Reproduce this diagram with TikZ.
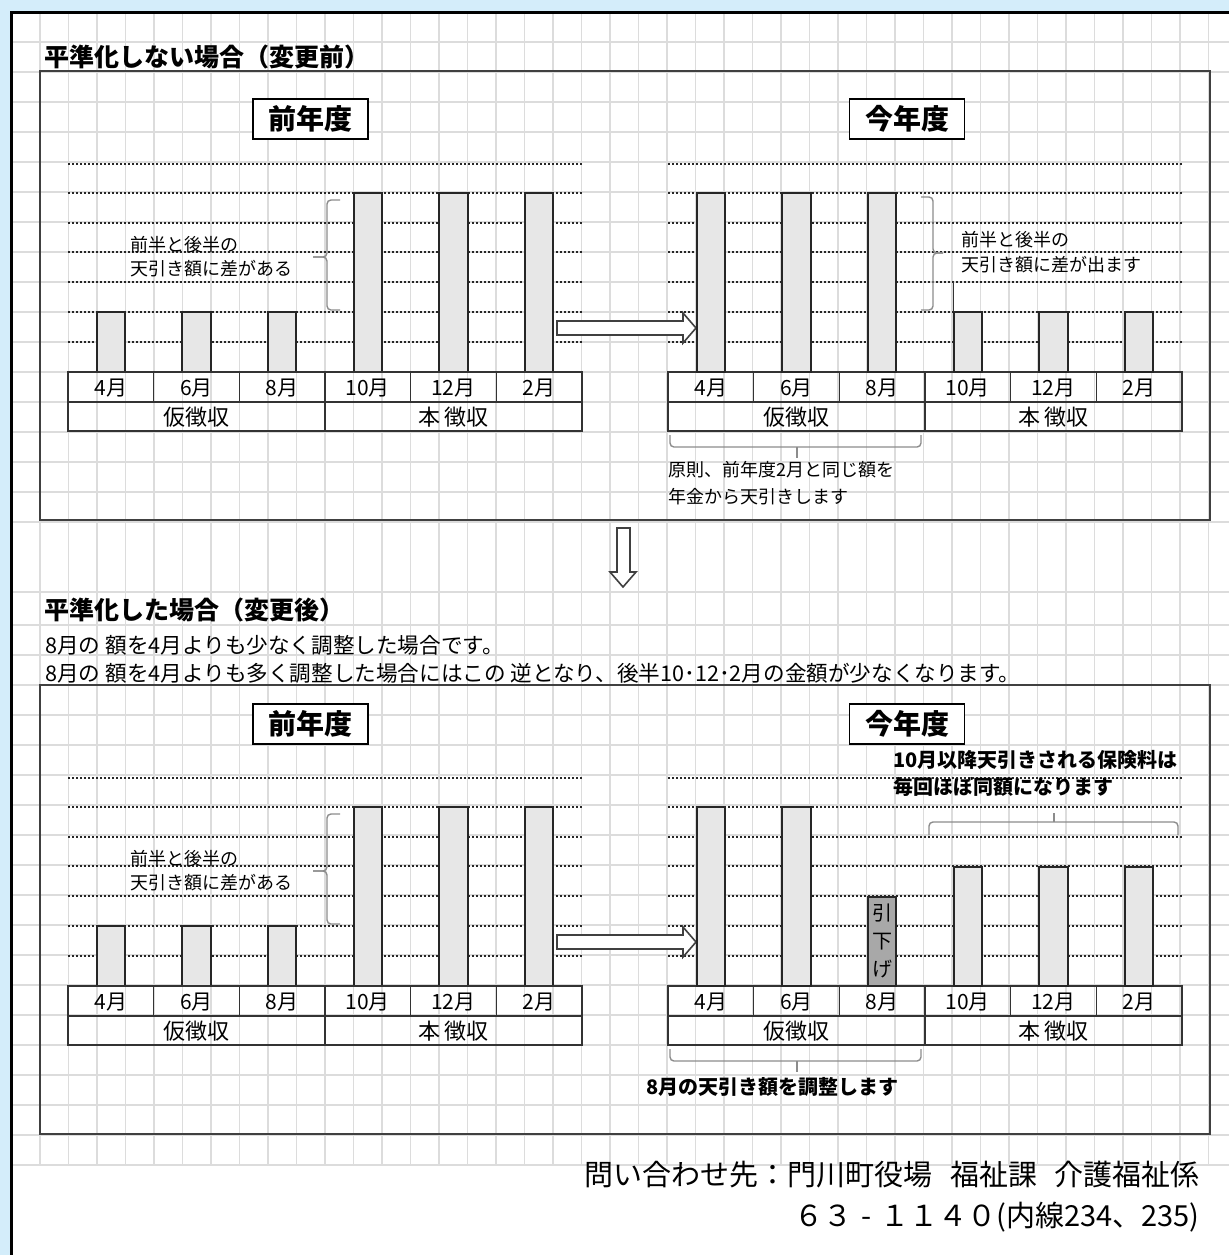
\documentclass[tikz,border=0pt]{standalone}
\usepackage{fontspec}
\setmainfont{Noto Sans CJK JP}
\definecolor{bgblue}{RGB}{212,237,250}
\definecolor{gridgray}{RGB}{220,220,220}
\definecolor{barfill}{RGB}{231,231,231}
\definecolor{lowfill}{RGB}{168,168,168}
\newcommand{\fsz}[1]{\fontsize{#1}{#1}\selectfont}

\begin{document}
\begin{tikzpicture}[x=0.5pt,y=-0.5pt,
  gridline/.style={draw=gridgray,line width=0.8pt},
  frameline/.style={draw=black!75,line width=0.9pt},
  guide/.style={draw=black!85,line width=1pt,dash pattern=on 1pt off 1pt},
  bar/.style={fill=barfill,draw=black!85,line width=1pt},
  lowbar/.style={fill=lowfill,draw=black!85,line width=1pt},
  cell/.style={draw=black!80,line width=0.8pt},
  brace/.style={draw=black!45,line width=0.7pt,rounded corners=2pt},
  hollow/.style={fill=white,draw=black!75,line width=0.8pt},
  yearbox/.style={draw=black,fill=white,line width=0.8pt,minimum width=57.5pt,
    minimum height=20pt,inner sep=0pt,font=\fsz{14}\bfseries},
  month/.style={inner sep=0pt,font=\fsz{10.5}},
  group/.style={inner sep=0pt,font=\fsz{11}},
  note/.style={anchor=west,inner sep=0pt,font=\fsz{9}},
  boldnote/.style={anchor=west,inner sep=0pt,font=\fsz{10}\bfseries},
  heading/.style={anchor=west,inner sep=0pt,font=\fsz{12.5}\bfseries},
  ]
\useasboundingbox (0,0) rectangle (1229,1255);

% sheet and spreadsheet grid
\fill[bgblue] (0,0) rectangle (1229,1255);
\fill[white] (11,12) rectangle (1229,1255);
\foreach \gx in {0,...,41}
  \draw[gridline] (40+28.5*\gx,12) -- (40+28.5*\gx,1165);
\foreach \gy in {42,72,...,522}
  \draw[gridline] (11,\gy) -- (1229,\gy);
\foreach \gy in {592,625,655,685,715,...,1165}
  \draw[gridline] (11,\gy) -- (1229,\gy);
\draw[black,line width=1.5pt] (11,1255) -- (11,12) -- (1229,12);

% parts that both panels share
\foreach \dy/\p in {0/a,614/b}{
\begin{scope}[shift={(0,\dy)}]
  \draw[frameline] (40,71) rectangle (1210,520);
  \foreach \gy in {164,193,223,252,282,312,342}{
    \draw[guide] (68,\gy) -- (582,\gy);
    \draw[guide] (668,\gy) -- (1182,\gy);
  }
  %last year: low first half, high second half
  \foreach \k/\top in {0/312,1/312,2/312,3/193,4/193,5/193}
    \draw[bar] ({96.6+85.67*\k},372) rectangle ({125.1+85.67*\k},\top);
  %month tables
  \foreach \tx/\s in {68/l,668/r}{
    \draw[cell] (\tx,372) rectangle (\tx+514,431);
    \draw[cell] (\tx,402) -- (\tx+514,402);
    \draw[cell] (\tx+257,402) -- (\tx+257,431);
    \foreach \k in {1,...,5}
      \draw[cell] ({\tx+85.67*\k},372) -- ({\tx+85.67*\k},402);
    \foreach \k/\m in {0/4,1/6,2/8,3/10,4/12,5/2}
      \node (\p\s m\k) [month] at ({\tx+42.8+85.67*\k},388) {\m 月};
    \node (\p\s g1) [group] at (\tx+128.5,417) {仮徴収};
    \node (\p\s g2) [group] at (\tx+385.5,417) {本 徴収};
  }
  %brace and note, last year
  \draw[brace] (340,200) -- (327,200) -- (327,257) -- (313,257);
  \draw[brace] (313,257) -- (327,257) -- (327,310) -- (340,310);
  \node (\p n1) [note] at (130,245) {前半と後半の};
  \node (\p n2) [note] at (130,269) {天引き額に差がある};
  %hollow arrow
  \draw[hollow] (557,321) -- (683,321) -- (683,313) -- (696,328) -- (683,343)
    -- (683,335) -- (557,335) -- cycle;
  %brace under 仮徴収
  \draw[brace] (670,435) -- (670,447) -- (921,447) -- (921,435);
  \draw[brace] (797,447) -- (797,458);
\end{scope}
}

% upper panel
\node (title1) [heading] at (44,57) {平準化しない場合（変更前）};
\node (prev1) [yearbox] at (310.5,119) {前年度};
\node (cur1) [yearbox] at (907,119) {今年度};
\foreach \k/\top in {0/193,1/193,2/193,3/312,4/312,5/312}
  \draw[bar] ({696.6+85.67*\k},372) rectangle ({725.1+85.67*\k},\top);
\draw[black!80,line width=0.5pt] (953.6,282) -- (953.6,312);
\draw[brace] (921,197) -- (933,197) -- (933,253) -- (943,253);
\draw[brace] (943,253) -- (933,253) -- (933,310) -- (921,310);
\node (rn1) [note] at (961,240) {前半と後半の};
\node (rn2) [note] at (961,265) {天引き額に差が出ます};
\node (rule1) [note] at (668,470) {原則、前年度2月と同じ額を};
\node (rule2) [note] at (668,497) {年金から天引きします};

% down arrow
\draw[hollow] (617,528) -- (630,528) -- (630,572) -- (636,572) -- (623,587)
  -- (610,572) -- (617,572) -- cycle;

% lower panel
\node (title2) [heading] at (44,610) {平準化した場合（変更後）};
\node (case1) [anchor=west,inner sep=0pt,font=\fsz{10.8}] at (45,645)
  {8月の 額を4月よりも少なく調整した場合です。};
\node (case2) [anchor=west,inner sep=0pt,font=\fsz{10.8}] at (45,673)
  {8月の 額を4月よりも多く調整した場合にはこの 逆となり、後半10･12･2月の金額が少なくなります。};
\node (prev2) [yearbox] at (310.5,724) {前年度};
\node (cur2) [yearbox] at (907,724) {今年度};
\draw[bar] (696.6,986) rectangle (725.1,807);%4月
\draw[bar] (782.3,986) rectangle (810.8,807);%6月
\draw[lowbar] (867.9,986) rectangle (896.4,897);%8月 lowered
\draw[bar] (953.6,986) rectangle (982.1,867);%10月
\draw[bar] (1039.3,986) rectangle (1067.8,867);%12月
\draw[bar] (1124.9,986) rectangle (1153.4,867);%2月
\node (cut) [inner sep=0pt,align=center,font=\fontsize{10}{14}\selectfont]
  at (882.1,941) {引\\下\\げ};
\node (flat1) [boldnote] at (893,760) {10月以降天引きされる保険料は};
\node (flat2) [boldnote] at (893,787) {毎回ほぼ同額になります};
\draw[brace] (929,835) -- (929,822) -- (1178,822) -- (1178,835);
\draw[brace] (1054,822) -- (1054,813);
\node (adjust) [boldnote] at (646,1087) {8月の天引き額を調整します};

% contact
\node (contact) [anchor=east,inner sep=0pt,font=\fsz{14.5}] at (1200,1175)
  {問い合わせ先：門川町役場\hspace{.6em}福祉課\hspace{.6em}介護福祉係};
\node (phone) [anchor=east,inner sep=0pt,font=\fsz{14.5}] at (1200,1217)
  {６３\hspace{.3em}-\hspace{.3em}１１４０(内線234、235)};
\end{tikzpicture}
\end{document}
